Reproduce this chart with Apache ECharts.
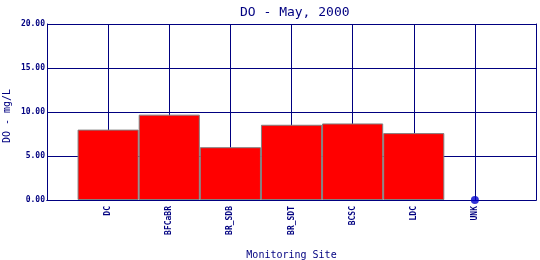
<!DOCTYPE html>
<html>
<head>
<meta charset="utf-8">
<script src="https://cdn.jsdelivr.net/npm/echarts@6/dist/echarts.min.js"></script>
<style>
  html, body { margin: 0; padding: 0; background: #ffffff; }
  #chart { width: 540px; height: 260px; }
</style>
</head>
<body>
<div id="chart"></div>
<script>
const titleText = 'DO - May, 2000';
const xAxisName = 'Monitoring Site';
const yAxisName = 'DO - mg/L';
const sites = ['DC', 'BFCaBR', 'BR_SDB', 'BR_SDT', 'BCSC', 'LDC', 'UNK'];
const doValues = [8.0, 9.7, 6.0, 8.55, 8.7, 7.6, 0];
const yTicks = [0, 5, 10, 15, 20];

const NAVY = '#000080';
const MONO = '"DejaVu Sans Mono", "Liberation Mono", monospace';

// pad with an empty slot on each side so sites sit one slot in from the frame
const cats = [''].concat(sites, ['']);
const barData = ['-'].concat(doValues.map(v => (v > 0 ? v : '-')), ['-']);
const dotData = ['-'].concat(doValues.map(v => (v === 0 ? v : '-')), ['-']);

const chart = echarts.init(document.getElementById('chart'), null, { renderer: 'canvas' });
chart.setOption({
  animation: false,
  backgroundColor: '#ffffff',
  title: {
    text: titleText,
    left: 235,
    top: 1,
    textStyle: { fontFamily: MONO, fontSize: 13, fontWeight: 'normal', color: NAVY }
  },
  grid: { left: 47, top: 24, right: 4, bottom: 60, containLabel: false, outerBoundsMode: 'none' },
  xAxis: [{
    type: 'category',
    data: cats,
    boundaryGap: false,
    name: xAxisName,
    nameLocation: 'middle',
    nameGap: 50,
    nameMoveOverlap: false,
    nameTextStyle: { fontFamily: MONO, fontSize: 10, color: NAVY },
    axisLine: { show: true, lineStyle: { color: NAVY, width: 1 } },
    axisTick: { show: false },
    axisLabel: {
      interval: 0, rotate: 90, margin: 6,
      fontFamily: MONO, fontSize: 8, fontWeight: 'bold', color: NAVY
    },
    splitLine: { show: true, interval: 0, lineStyle: { color: NAVY, width: 1 } }
  }, {
    type: 'category',
    data: cats,
    boundaryGap: false,
    position: 'top',
    axisLine: { show: true, lineStyle: { color: NAVY, width: 1 } },
    axisTick: { show: false },
    axisLabel: { show: false },
    splitLine: { show: false }
  }],
  yAxis: [{
    type: 'value',
    min: yTicks[0],
    max: yTicks[yTicks.length - 1],
    interval: yTicks[1] - yTicks[0],
    name: yAxisName,
    nameLocation: 'middle',
    nameRotate: 90,
    nameGap: 35,
    nameMoveOverlap: false,
    nameTextStyle: { fontFamily: MONO, fontSize: 10, color: NAVY, padding: [0, 8, 0, 0] },
    axisLine: { show: true, lineStyle: { color: NAVY, width: 1 } },
    axisTick: { show: false },
    axisLabel: {
      margin: 2,
      formatter: v => v.toFixed(2),
      fontFamily: MONO, fontSize: 8, fontWeight: 'bold', color: NAVY
    },
    splitLine: { show: true, lineStyle: { color: NAVY, width: 1 } }
  }, {
    type: 'value',
    min: yTicks[0],
    max: yTicks[yTicks.length - 1],
    interval: yTicks[1] - yTicks[0],
    position: 'right',
    axisLine: { show: true, lineStyle: { color: NAVY, width: 1 } },
    axisTick: { show: false },
    axisLabel: { show: false },
    splitLine: { show: false }
  }],
  series: [{
    type: 'bar',
    data: barData,
    barWidth: '100%',
    itemStyle: { color: '#ff0000', borderColor: '#808080', borderWidth: 1 },
    z: 3
  }, {
    type: 'scatter',
    data: dotData,
    symbol: 'circle',
    symbolSize: 8,
    itemStyle: { color: '#0000cc' },
    z: 5
  }]
});
</script>
</body>
</html>
